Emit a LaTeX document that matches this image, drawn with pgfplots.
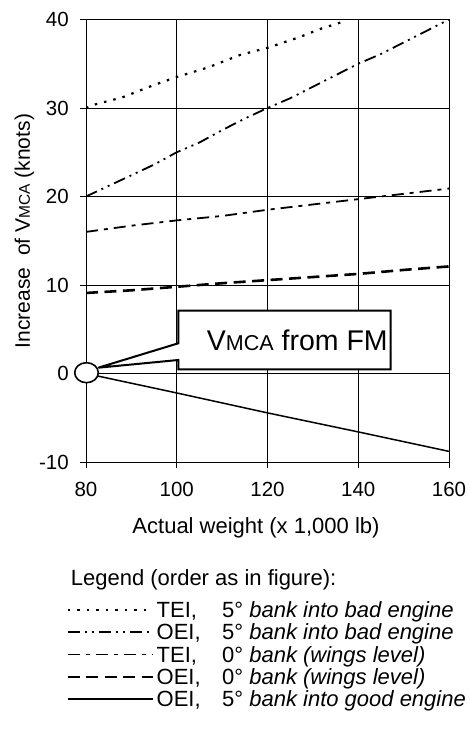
\documentclass[border=0pt]{standalone}
\usepackage{fontspec}
\setmainfont{Liberation Sans}
\usepackage{pgfplots}
\pgfplotsset{compat=1.18}
\newcommand{\fs}[1]{\fontsize{#1}{#1}\selectfont}

\tikzset{
  sA/.style={black, line width=2.2pt, dash pattern=on 2.5pt off 7pt},
  sB/.style={black, line width=1.8pt, dash pattern=on 12pt off 5pt on 2pt off 5pt on 2pt off 5pt},
  sC/.style={black, line width=1.8pt, dash pattern=on 12pt off 6pt on 4pt off 6pt},
  sD/.style={black, line width=2.6pt, dash pattern=on 12pt off 6.5pt},
  sE/.style={black, line width=1.5pt},
}

\pgfplotstableread{
x y
80 30.0
82 30.4
88 31.2
95 32.6
100 33.5
107 34.6
114 36.0
120 36.8
127 38.0
132 39.0
137 39.8
}\teifive
\pgfplotstableread{
x y
80 20.0
85 21.2
90 22.4
95 23.6
100 25.0
105 26.1
110 27.5
115 28.8
120 30.0
125 31.1
130 32.4
135 33.7
140 35.0
145 36.1
150 37.4
155 38.7
160 40.0
}\oeifive
\pgfplotstableread{
x y
80 16.0
90 16.7
100 17.3
110 17.8
120 18.5
130 19.1
140 19.7
150 20.3
160 20.9
}\teizero
\pgfplotstableread{
x y
80 9.1
90 9.4
100 9.8
110 10.2
120 10.55
130 10.9
140 11.25
150 11.7
160 12.1
}\oeizero
\pgfplotstableread{
x y
80 0.0
100 -2.2
120 -4.45
140 -6.6
160 -8.8
}\oeigood

\newcommand{\legrow}[5]{%
  \draw[#1] (67.5,#2+7.5) -- (152.5,#2+7.5);
  \node[anchor=base west, inner sep=0pt, font=\fs{22}] at (156.5,#2) {#3};
  \node[anchor=base west, inner sep=0pt, font=\fs{22}] at (222,#2) {#4\ \textit{#5}};
}

\begin{document}
\begin{tikzpicture}[x=1pt,y=1pt]
\path[use as bounding box] (0,0) rectangle (470,738);
\begin{axis}[
  at={(86pt,276pt)}, anchor=south west,
  scale only axis, width=363pt, height=442.5pt,
  xmin=80, xmax=160, ymin=-10, ymax=40,
  xtick={80,100,...,160}, ytick={-10,0,...,40},
  grid=major, grid style={black, line width=0.8pt},
  axis line style={black, line width=0.8pt},
  tick align=outside, major tick length=6pt,
  tick style={black, line width=0.8pt},
  xtick pos=bottom, ytick pos=left,
  /pgf/number format/assume math mode=true,
  ticklabel style={font=\fs{20.5}},
  yticklabel style={anchor=east, inner sep=0pt, xshift=-11pt},
  xticklabel style={anchor=base, inner sep=0pt, yshift=-29pt},
  xlabel={Actual weight (x 1,000 lb)},
  xlabel style={at={(axis description cs:0.4683,-0.1627)}, anchor=base, inner sep=0pt, font=\fs{22}},
  ylabel={Increase\ \ of V{\fs{15.5}MCA} (knots)},
  ylabel style={at={(axis description cs:-0.1543,0.522)}, rotate=0, anchor=base, inner sep=0pt, font=\fs{21}},
]
\addplot[sA] table[x=x,y=y] {\teifive};
\addplot[sB] table[x=x,y=y] {\oeifive};
\addplot[sC] table[x=x,y=y] {\teizero};
\addplot[sD] table[x=x,y=y] {\oeizero};
\addplot[sE] table[x=x,y=y] {\oeigood};
\end{axis}
% callout
\draw[black, line width=2pt, fill=white, line join=miter]
  (178.3,427.3) -- (178.3,394.7) -- (98.3,370.3) -- (178.3,378) -- (178.3,368.7)
  -- (390.7,368.7) -- (390.7,427.3) -- cycle;
\node[anchor=base west, inner sep=0pt] at (206.7,387) {\fs{28.5}V{\fs{21.5}MCA} from FM};
\draw[black, line width=1.6pt, fill=white] (86.5,365.3) ellipse [x radius=11.8, y radius=10];
% legend
\node[anchor=base west, inner sep=0pt, font=\fs{22}] at (70.7,152) {Legend (order as in figure):};
\legrow{sA}{120.5}{TEI,}{5°}{bank into bad engine}
\legrow{sB}{98.2}{OEI,}{5°}{bank into bad engine}
\legrow{sC}{75.9}{TEI,}{0°}{bank (wings level)}
\legrow{sD}{53.6}{OEI,}{0°}{bank (wings level)}
\legrow{sE}{31.3}{OEI,}{5°}{bank into good engine}
\end{tikzpicture}
\end{document}
